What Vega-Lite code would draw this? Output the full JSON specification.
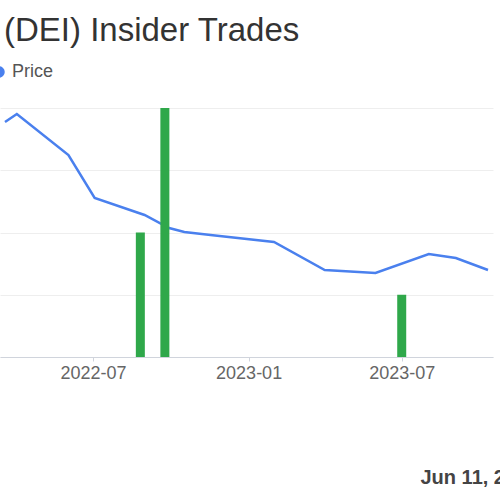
{
  "$schema": "https://vega.github.io/schema/vega-lite/v6.json",
  "width": 493,
  "height": 249,
  "autosize": "none",
  "padding": {"left": 0, "top": 108, "right": 7, "bottom": 143},
  "background": "white",
  "config": {
    "font": "Liberation Sans",
    "view": {"stroke": null}
  },
  "title": {
    "text": "(DEI) Insider Trades",
    "anchor": "start",
    "frame": "group",
    "dx": 4,
    "dy": 32,
    "offset": 21,
    "baseline": "alphabetic",
    "fontSize": 33,
    "fontWeight": "normal",
    "color": "#333333"
  },
  "datasets": {
    "price": [
      {"date": "2022-03-19", "price": 37.75},
      {"date": "2022-04-02", "price": 39.04},
      {"date": "2022-06-02", "price": 32.45},
      {"date": "2022-07-03", "price": 25.54},
      {"date": "2022-08-31", "price": 22.81},
      {"date": "2022-09-29", "price": 20.72},
      {"date": "2022-10-17", "price": 20.08},
      {"date": "2022-11-17", "price": 19.6},
      {"date": "2023-01-31", "price": 18.47},
      {"date": "2023-04-01", "price": 13.98},
      {"date": "2023-05-31", "price": 13.49},
      {"date": "2023-08-02", "price": 16.55},
      {"date": "2023-09-03", "price": 15.9},
      {"date": "2023-10-11", "price": 13.98}
    ],
    "trades": [
      {"date": "2022-08-26", "trades": 2},
      {"date": "2022-09-24", "trades": 4},
      {"date": "2023-07-01", "trades": 1}
    ]
  },
  "layer": [
    {
      "data": {"name": "price"},
      "mark": {"type": "line", "strokeWidth": 2.5, "clip": true},
      "encoding": {
        "x": {
          "field": "date",
          "type": "temporal",
          "scale": {"domain": ["2022-03-19", "2023-10-11"]},
          "axis": {
            "values": ["2022-07-01", "2023-01-01", "2023-07-01"],
            "format": "%Y-%m",
            "grid": false,
            "labelFontSize": 18,
            "labelColor": "#666666",
            "labelPadding": 3,
            "tickSize": 4,
            "tickColor": "#d0d4dc",
            "domainColor": "#d0d4dc",
            "title": "Jun 11, 2024",
            "titleX": 420,
            "titleY": 120,
            "titleAlign": "left",
            "titleBaseline": "middle",
            "titleFontSize": 20,
            "titleFontWeight": "bold",
            "titleColor": "#444444"
          }
        },
        "y": {
          "field": "price",
          "type": "quantitative",
          "scale": {"domain": [0, 40]},
          "axis": {
            "values": [0, 10, 20, 30, 40],
            "grid": true,
            "gridColor": "#eeeeee",
            "labels": false,
            "ticks": false,
            "domain": false,
            "title": null
          }
        },
        "color": {
          "datum": "Price",
          "scale": {"range": ["#4a80ee"]},
          "legend": {
            "title": null,
            "orient": "none",
            "legendX": -10,
            "legendY": -45,
            "padding": 0,
            "symbolType": "circle",
            "symbolSize": 100,
            "symbolFillColor": "#4a80ee",
            "symbolStrokeColor": "#4a80ee",
            "labelFontSize": 18,
            "labelColor": "#555555",
            "labelOffset": 4
          }
        }
      }
    },
    {
      "data": {"name": "trades"},
      "mark": {"type": "bar", "size": 9, "color": "#2fa84a"},
      "encoding": {
        "x": {"field": "date", "type": "temporal"},
        "y": {
          "field": "trades",
          "type": "quantitative",
          "scale": {"domain": [0, 4]},
          "axis": null
        }
      }
    }
  ],
  "resolve": {"scale": {"y": "independent"}}
}
